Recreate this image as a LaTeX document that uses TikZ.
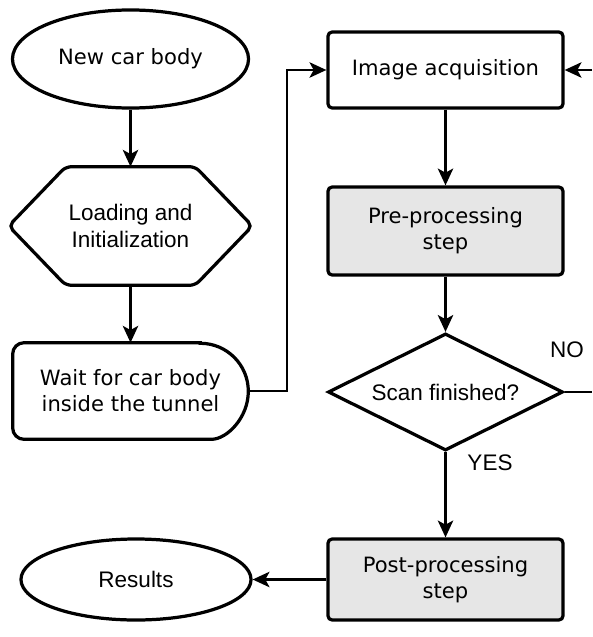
\documentclass[tikz,border=0pt]{standalone}
\usepackage{fontspec}
\setmainfont{DejaVu Sans}
\newfontfamily\helv{Liberation Sans}
\usetikzlibrary{shapes.geometric,arrows.meta}
\definecolor{boxgray}{HTML}{E6E6E6}
\begin{document}
\begin{tikzpicture}[x=0.025cm,y=-0.025cm,
    every node/.style={inner sep=0pt,align=center},
    dvfont/.style={font=\fontsize{15}{18.4}\selectfont},
    lsfont/.style={font=\helv\fontsize{16}{19.8}\selectfont},
    border/.style={line width=2.3pt},
    terminal/.style={ellipse,draw,border},
    procbox/.style={rectangle,draw,border,rounded corners=3pt,dvfont,
      minimum width=5.875cm},
    graybox/.style={procbox,fill=boxgray},
    decision/.style={diamond,draw,border,lsfont,aspect=2,
      minimum width=5.875cm,minimum height=2.925cm}]
  \useasboundingbox (0,0) rectangle (592,637);
  % left column
  \node[terminal,dvfont,minimum width=5.9cm,minimum height=2.45cm]
    (newcar) at (130.5,59) {New car body};
  \node[lsfont,minimum width=6.075cm,minimum height=2.95cm]
    (load) at (130.5,226) {Loading and\\Initialization};
  \draw[border,rounded corners=4pt] (load.west)
    -- ([xshift=1.425cm]load.north west) -- ([xshift=-1.425cm]load.north east)
    -- (load.east)
    -- ([xshift=-1.425cm]load.south east) -- ([xshift=1.425cm]load.south west)
    -- cycle;
  \node[dvfont,minimum width=5.875cm,minimum height=2.4cm]
    (wait) at (130.5,391) {Wait for car body\\inside the tunnel};
  \draw[border] ([xshift=-1.2cm]wait.north east)
    [rounded corners=8pt] -- (wait.north west) -- (wait.south west)
    -- ([xshift=-1.2cm]wait.south east)
    [sharp corners] arc[start angle=-90,end angle=90,radius=1.2cm] -- cycle;
  \node[terminal,lsfont,minimum width=5.75cm,minimum height=2.025cm]
    (results) at (136,579.5) {Results};
  % right column
  \node[procbox,minimum height=1.9cm] (acq) at (445.5,70) {Image acquisition};
  \node[graybox,minimum height=2.2cm] (pre) at (445.5,231) {Pre-processing\\step};
  \node[decision] (scan) at (445.5,392) {Scan finished?};
  \node[graybox,minimum height=2.025cm] (post) at (445.5,579.5) {Post-processing\\step};
  \node[lsfont] (no) at (567,350) {NO};
  \node[lsfont] (yes) at (490,463) {YES};
  \coordinate (noend) at (592,392);
  \coordinate (loopin) at (592,70);
  \begin{scope}[line width=1.5pt,-{Stealth[length=12pt,width=11pt,inset=3pt]}]
    \draw (newcar) -- (load);
    \draw (load) -- (wait);
    \draw (wait.east) -- ++(0.975cm,0) |- (acq.west);
    \draw (acq) -- (pre);
    \draw (pre) -- (scan);
    \draw (scan) -- (post);
    \draw (post) -- (results);
    \draw[-] (scan.east) -- (noend);
    \draw (loopin) -- (acq.east);
  \end{scope}
\end{tikzpicture}
\end{document}
